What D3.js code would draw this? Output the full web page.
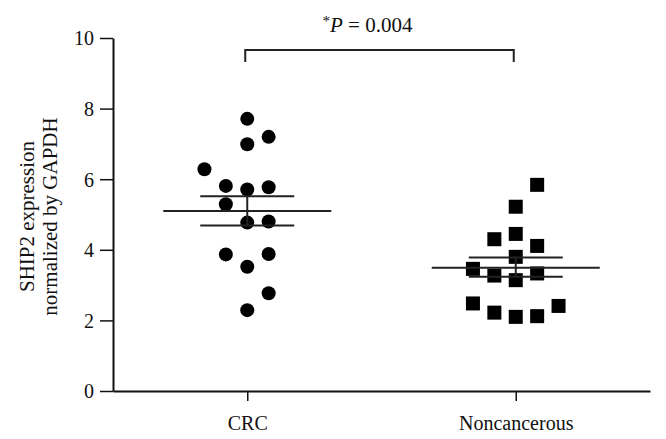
<!DOCTYPE html>
<html>
<head>
<meta charset="utf-8">
<script src="https://cdn.jsdelivr.net/npm/d3@7"></script>
<style>
  html, body { margin: 0; padding: 0; background: #fff; }
  svg { display: block; font-family: "Liberation Serif", "Times New Roman", serif; }
</style>
</head>
<body>
<svg id="chart" width="666" height="439"></svg>
<script>
// ---- data ----
const categories = ["CRC", "Noncancerous"];
const crcValues = [7.71, 7.20, 6.99, 6.28, 5.81, 5.71, 5.77, 5.29, 4.77, 4.80, 3.87, 3.88, 3.52, 2.77, 2.29];
const crcSlots  = [0, 1, 0, -2, -1, 0, 1, -1, 0, 1, -1, 1, 0, 1, 0];
const ncValues  = [5.84, 5.22, 4.30, 4.45, 4.11, 3.80, 3.46, 3.27, 3.14, 3.33, 2.48, 2.22, 2.10, 2.12, 2.41];
const ncSlots   = [1, 0, -1, 0, 1, 0, -2, -1, 0, 1, -2, -1, 0, 1, 2];
const groupMeans = [5.10, 3.49];
const groupSEMupper = [5.52, 3.78];
const groupSEMlower = [4.69, 3.24];
const yTicks = [0, 2, 4, 6, 8, 10];
const yLabelLines = ["SHIP2 expression", "normalized by GAPDH"];
const pText = "0.004";

// ---- layout ----
const svg = d3.select("#chart");
const x = d3.scalePoint().domain(categories).range([113, 650]).padding(0.5);
const y = d3.scaleLinear().domain([0, 10]).range([391, 38]);
const slotW = 21.4;
const ink = "#111";

// y axis
const yAxis = svg.append("g")
  .attr("transform", "translate(113,0)")
  .call(d3.axisLeft(y).tickValues(yTicks).tickFormat(d3.format("d")).tickSize(13).tickSizeOuter(0).tickPadding(6));
yAxis.select(".domain").attr("stroke", ink).attr("stroke-width", 2);
yAxis.selectAll(".tick line").attr("stroke", ink).attr("stroke-width", 1.5);
yAxis.selectAll(".tick text").attr("font-size", 20).attr("fill", ink)
  .attr("font-family", "Liberation Serif, serif").attr("dy", "0.34em");

// x axis
const xAxis = svg.append("g")
  .attr("transform", "translate(0,391)")
  .call(d3.axisBottom(x).tickSize(10).tickSizeOuter(0).tickPadding(15));
xAxis.select(".domain").attr("stroke", ink).attr("stroke-width", 2);
xAxis.selectAll(".tick line").attr("stroke", ink).attr("stroke-width", 1.5);
xAxis.selectAll(".tick text").attr("font-size", 20).attr("fill", ink)
  .attr("font-family", "Liberation Serif, serif");

// y label
const yl = svg.append("text")
  .attr("transform", `translate(0,${(y(0) + y(10)) / 2 + 2}) rotate(-90)`)
  .attr("text-anchor", "middle")
  .attr("font-size", 21)
  .attr("fill", ink);
yl.selectAll("tspan").data(yLabelLines).join("tspan")
  .attr("x", 0)
  .attr("y", (d, i) => 34 + i * 23)
  .text(d => d);

// points CRC (circles)
svg.append("g").selectAll("circle")
  .data(crcValues.map((v, i) => ({ v, s: crcSlots[i] })))
  .join("circle")
  .attr("cx", d => x(categories[0]) + d.s * slotW)
  .attr("cy", d => y(d.v))
  .attr("r", 7)
  .attr("fill", "#000");

// points Noncancerous (squares)
const sq = 14;
svg.append("g").selectAll("rect")
  .data(ncValues.map((v, i) => ({ v, s: ncSlots[i] })))
  .join("rect")
  .attr("x", d => x(categories[1]) + d.s * slotW - sq / 2)
  .attr("y", d => y(d.v) - sq / 2)
  .attr("width", sq)
  .attr("height", sq)
  .attr("fill", "#000");

// mean and SEM lines
const meanHalf = 84, semHalf = 47;
categories.forEach((c, i) => {
  const cx = x(c);
  const g = svg.append("g").attr("stroke", "#222").attr("stroke-width", 2);
  g.append("line").attr("x1", cx - meanHalf).attr("x2", cx + meanHalf)
    .attr("y1", y(groupMeans[i])).attr("y2", y(groupMeans[i]));
  g.append("line").attr("x1", cx - semHalf).attr("x2", cx + semHalf)
    .attr("y1", y(groupSEMupper[i])).attr("y2", y(groupSEMupper[i]));
  g.append("line").attr("x1", cx - semHalf).attr("x2", cx + semHalf)
    .attr("y1", y(groupSEMlower[i])).attr("y2", y(groupSEMlower[i]));
  g.append("line").attr("x1", cx).attr("x2", cx)
    .attr("y1", y(groupSEMupper[i])).attr("y2", y(groupSEMlower[i]));
});

// significance bracket
const bx1 = x(categories[0]) - 2, bx2 = x(categories[1]) - 2;
svg.append("path")
  .attr("d", `M${bx1},62 V50 H${bx2} V62`)
  .attr("fill", "none").attr("stroke", "#222").attr("stroke-width", 2);

const pt = svg.append("text")
  .attr("x", (bx1 + bx2) / 2 - 12)
  .attr("y", 32)
  .attr("text-anchor", "middle")
  .attr("font-size", 21)
  .attr("fill", ink);
pt.append("tspan").attr("font-size", 15).attr("dy", -6).text("*");
pt.append("tspan").attr("font-style", "italic").attr("dy", 6).text("P");
pt.append("tspan").text(" = " + pText);
</script>
</body>
</html>
